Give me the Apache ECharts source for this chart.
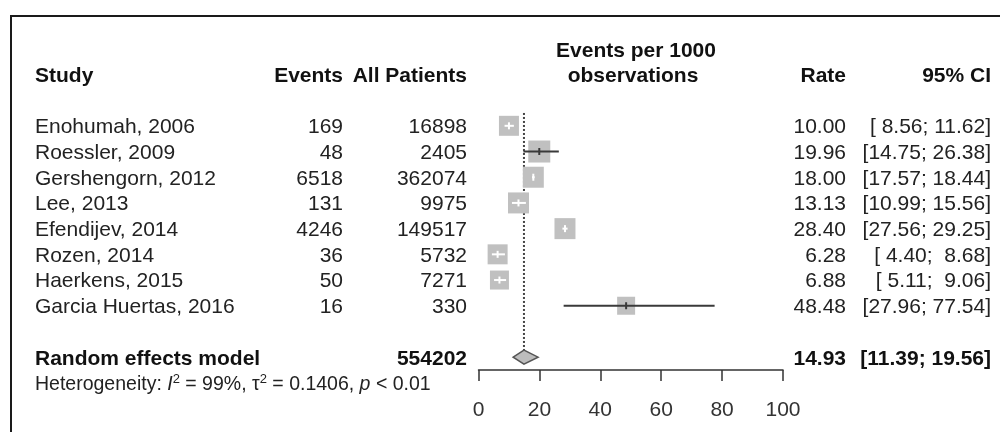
<!DOCTYPE html>
<html>
<head>
<meta charset="utf-8">
<script src="https://cdn.jsdelivr.net/npm/echarts@6/dist/echarts.min.js"></script>
<style>
html,body{margin:0;padding:0;background:#fff;}
#chart{width:1000px;height:432px;}
</style>
</head>
<body>
<div id="chart"></div>
<script>
// ---- data ----
const studies = ['Enohumah, 2006','Roessler, 2009','Gershengorn, 2012','Lee, 2013','Efendijev, 2014','Rozen, 2014','Haerkens, 2015','Garcia Huertas, 2016'];
const events = [169, 48, 6518, 131, 4246, 36, 50, 16];
const patients = [16898, 2405, 362074, 9975, 149517, 5732, 7271, 330];
const rates = [10.00, 19.96, 18.00, 13.13, 28.40, 6.28, 6.88, 48.48];
const lowerCI = [8.56, 14.75, 17.57, 10.99, 27.56, 4.40, 5.11, 27.96];
const upperCI = [11.62, 26.38, 18.44, 15.56, 29.25, 8.68, 9.06, 77.54];
const pooledLabel = 'Random effects model';
const pooledPatients = 554202;
const pooledRate = 14.93;
const pooledLower = 11.39;
const pooledUpper = 19.56;
const xTicks = [0, 20, 40, 60, 80, 100];
const headers = ['Study', 'Events', 'All Patients', 'Events per 1000', 'observations', 'Rate', '95% CI'];
const hetI2 = '99%';
const hetTau2 = '0.1406';
const hetP = '< 0.01';

// ---- layout / style ----
const squareSizes = [20, 22, 21, 21, 21, 20, 19, 18];
const FONT = "'Liberation Sans', Arial, sans-serif";
const FS = 21;
const TXT = '#222';
const pad = (v) => v.toFixed(2).padStart(5, ' ');
const ciText = (lo, hi) => '[' + pad(lo) + '; ' + pad(hi) + ']';

const ROW_POOLED = 9, ROW_HET = 10, ROW_HEAD = -2, ROW_HEAD1 = -3;

const chart = echarts.init(document.getElementById('chart'), null, {renderer: 'canvas'});

const textRows = [];
textRows.push({row: ROW_HEAD, kind: 'header'});
textRows.push({row: ROW_HEAD1, kind: 'header1'});
studies.forEach((s, i) => textRows.push({row: i, kind: 'study', i}));
textRows.push({row: ROW_POOLED, kind: 'pooled'});
textRows.push({row: ROW_HET, kind: 'het'});

function t(x, y, text, align, bold, size) {
  return {type: 'text', x: x, y: y, silent: true, style: {
    text: text, align: align, verticalAlign: 'middle',
    fontSize: size || FS, fontFamily: FONT, fontWeight: bold ? 'bold' : 'normal',
    fill: bold ? '#111' : TXT }};
}

const option = {
  animation: false,
  backgroundColor: '#fff',
  grid: {left: 478.5, right: 217, top: 23, bottom: 62},
  xAxis: {
    type: 'value', min: 0, max: 100, interval: 20,
    axisLine: {show: true, onZero: false, lineStyle: {color: '#333', width: 1.5}},
    axisTick: {show: true, length: 11, inside: false, lineStyle: {color: '#333', width: 1.5}},
    splitLine: {show: false},
    axisLabel: {margin: 30, fontSize: 21, fontFamily: FONT, color: '#333',
      formatter: (v) => xTicks.includes(v) ? String(v) : ''}
  },
  yAxis: {type: 'value', inverse: true, min: -4, max: 9.5, show: false},
  graphic: [{type: 'rect', shape: {x: 11, y: 16, width: 1200, height: 800},
    style: {fill: 'none', stroke: '#1a1a1a', lineWidth: 2}, silent: true}],
  series: [
    {
      type: 'custom', clip: false, z: 3,
      data: rates.map((r, i) => [r, i, lowerCI[i], upperCI[i]]),
      renderItem: function (params, api) {
        const i = params.dataIndex;
        const c = api.coord([api.value(0), api.value(1)]);
        const lo = api.coord([api.value(2), api.value(1)]);
        const hi = api.coord([api.value(3), api.value(1)]);
        const s = squareSizes[i];
        const inside = lo[0] >= c[0] - s / 2 && hi[0] <= c[0] + s / 2;
        const col = inside ? '#ffffff' : '#3a3a3a';
        return {type: 'group', children: [
          {type: 'rect', shape: {x: c[0] - s / 2, y: c[1] - s / 2, width: s, height: s},
            style: {fill: '#c0c0c0'}},
          {type: 'line', shape: {x1: lo[0], y1: c[1], x2: hi[0], y2: c[1]},
            style: {stroke: col, lineWidth: 2}, z2: 2},
          {type: 'line', shape: {x1: c[0], y1: c[1] - 3.5, x2: c[0], y2: c[1] + 3.5},
            style: {stroke: col, lineWidth: 2}, z2: 2}
        ]};
      }
    },
    {
      type: 'custom', clip: false, z: 2,
      data: [[pooledRate, ROW_POOLED, pooledLower, pooledUpper]],
      renderItem: function (params, api) {
        const c = api.coord([api.value(0), api.value(1)]);
        const lo = api.coord([api.value(2), api.value(1)]);
        const hi = api.coord([api.value(3), api.value(1)]);
        const top = api.coord([api.value(0), -0.5]);
        const h = 7;
        return {type: 'group', children: [
          {type: 'line', shape: {x1: c[0], y1: top[1], x2: c[0], y2: c[1] - h},
            style: {stroke: '#444', lineWidth: 2, lineDash: [2, 2]}},
          {type: 'polygon', shape: {points: [[lo[0], c[1]], [c[0], c[1] - h], [hi[0], c[1]], [c[0], c[1] + h]]},
            style: {fill: '#bdbdbd', stroke: '#555', lineWidth: 1.5}}
        ]};
      }
    },
    {
      type: 'custom', clip: false, z: 4,
      data: textRows.map((r) => [0, r.row]),
      renderItem: function (params, api) {
        const r = textRows[params.dataIndex];
        const y0 = api.coord([0, api.value(1)])[1];
        const ch = [];
        if (r.kind === 'header') {
          const y = y0 + 2;
          ch.push(t(35, y, headers[0], 'left', true));
          ch.push(t(343, y, headers[1], 'right', true));
          ch.push(t(467, y, headers[2], 'right', true));
          ch.push(t(633, y, headers[4], 'center', true));
          ch.push(t(846, y, headers[5], 'right', true));
          ch.push(t(991, y, headers[6], 'right', true));
        } else if (r.kind === 'header1') {
          ch.push(t(636, y0 + 2.5, headers[3], 'center', true));
        } else if (r.kind === 'study') {
          const i = r.i, y = y0 + 1.5;
          ch.push(t(35, y, studies[i], 'left', false));
          ch.push(t(343, y, String(events[i]), 'right', false));
          ch.push(t(467, y, String(patients[i]), 'right', false));
          ch.push(t(846, y, rates[i].toFixed(2), 'right', false));
          ch.push(t(991, y, ciText(lowerCI[i], upperCI[i]), 'right', false));
        } else if (r.kind === 'pooled') {
          const y = y0 + 2.5;
          ch.push(t(35, y, pooledLabel, 'left', true));
          ch.push(t(467, y, String(pooledPatients), 'right', true));
          ch.push(t(846, y, pooledRate.toFixed(2), 'right', true));
          ch.push(t(991, y, ciText(pooledLower, pooledUpper), 'right', true));
        } else if (r.kind === 'het') {
          ch.push({type: 'text', x: 35, y: y0 + 1.5, silent: true, style: {
            text: '{n|Heterogeneity: }{i|I}{s|2}{n| = ' + hetI2 + ', τ}{s|2}{n| = ' + hetTau2 + ', }{i|p}{n| ' + hetP + '}',
            align: 'left', verticalAlign: 'middle', fontFamily: FONT, fill: TXT,
            rich: {
              n: {fontSize: 19.5, fontFamily: FONT, color: TXT, lineHeight: 22},
              i: {fontSize: 19.5, fontFamily: FONT, fontStyle: 'italic', color: TXT, lineHeight: 22},
              s: {fontSize: 13, fontFamily: FONT, color: TXT, verticalAlign: 'top', lineHeight: 22, padding: [0, 0, 12, 0]}
            }
          }});
        }
        return {type: 'group', children: ch};
      }
    }
  ]
};
chart.setOption(option);
</script>
</body>
</html>
